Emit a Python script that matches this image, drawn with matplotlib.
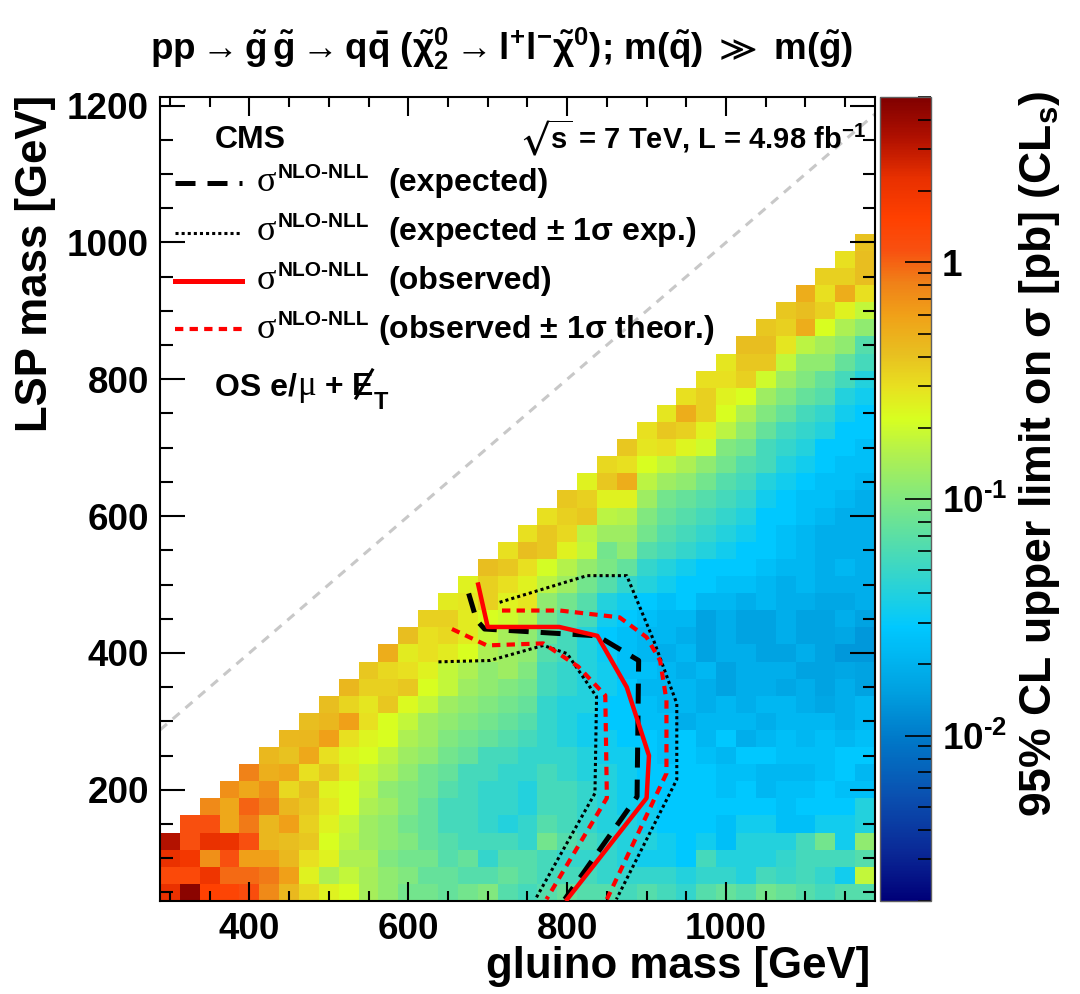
import numpy as np
import matplotlib
matplotlib.use("Agg")
import matplotlib.pyplot as plt
from matplotlib.colors import LogNorm, LinearSegmentedColormap
from matplotlib.lines import Line2D
from matplotlib.ticker import MultipleLocator, FixedLocator, FixedFormatter, NullFormatter

plt.rcParams['font.family'] = ['Liberation Sans', 'DejaVu Sans']
plt.rcParams['font.weight'] = 'bold'
plt.rcParams['mathtext.fontset'] = 'custom'
plt.rcParams['mathtext.rm'] = 'Liberation Sans:bold'
plt.rcParams['mathtext.it'] = 'Liberation Sans:bold'
plt.rcParams['mathtext.bf'] = 'Liberation Sans:bold'
plt.rcParams['mathtext.sf'] = 'Liberation Sans:bold'
plt.rcParams['mathtext.fallback'] = 'stixsans'

# ---------------- data ----------------
gluino_mass = np.arange(300, 1176, 25)      # bin centres [GeV]
lsp_mass = np.arange(50, 1201, 25)          # bin centres [GeV]

# 95% CL upper limit [pb]; one list per gluino column, from LSP = 50 GeV upward
limit_cols = [
    [2.2, 1.3, 2.2, 3.3],
    [4.5, 1.3, 1.9, 1.15, 1.15],
    [1.5, 2.0, 0.7, 2.2, 1.15, 0.75],
    [1.4, 0.95, 1.15, 2.1, 0.55, 0.55, 0.7],
    [1.2, 0.95, 0.6, 1.15, 0.85, 1.0, 0.55, 0.8],
    [0.75, 0.85, 0.6, 0.46, 0.46, 0.8, 0.7, 0.5, 0.45],
    [0.45, 0.6, 0.45, 0.42, 0.6, 0.46, 0.32, 0.55, 0.4, 0.45],
    [0.32, 0.25, 0.3, 0.38, 0.35, 0.38, 0.42, 0.3, 0.55, 0.46, 0.42],
    [0.25, 0.15, 0.25, 0.22, 0.25, 0.28, 0.25, 0.38, 0.3, 0.6, 0.46, 0.42],
    [0.22, 0.18, 0.15, 0.17, 0.18, 0.22, 0.22, 0.27, 0.24, 0.3, 0.6, 0.33, 0.46],
    [0.14, 0.14, 0.15, 0.13, 0.13, 0.15, 0.17, 0.18, 0.22, 0.24, 0.3, 0.28, 0.35, 0.38],
    [0.115, 0.115, 0.1, 0.115, 0.115, 0.13, 0.115, 0.15, 0.17, 0.22, 0.22, 0.38, 0.35, 0.32, 0.52],
    [0.088, 0.1, 0.088, 0.1, 0.088, 0.1, 0.1, 0.115, 0.13, 0.15, 0.18, 0.23, 0.38, 0.3, 0.27, 0.42],
    [0.088, 0.077, 0.088, 0.077, 0.077, 0.077, 0.088, 0.088, 0.115, 0.13, 0.13, 0.18, 0.22, 0.25, 0.3, 0.3, 0.35],
    [0.077, 0.077, 0.066, 0.066, 0.056, 0.056, 0.066, 0.077, 0.088, 0.1, 0.115, 0.13, 0.18, 0.18, 0.27, 0.32, 0.35, 0.27],
    [0.088, 0.066, 0.077, 0.056, 0.056, 0.056, 0.056, 0.056, 0.077, 0.088, 0.1, 0.115, 0.13, 0.15, 0.22, 0.27, 0.27, 0.28, 0.25],
    [0.1, 0.066, 0.048, 0.056, 0.048, 0.048, 0.048, 0.056, 0.056, 0.077, 0.088, 0.1, 0.115, 0.115, 0.15, 0.18, 0.22, 0.35, 0.35, 0.42],
    [0.066, 0.077, 0.066, 0.056, 0.04, 0.048, 0.048, 0.048, 0.056, 0.066, 0.077, 0.088, 0.1, 0.13, 0.13, 0.14, 0.2, 0.25, 0.3, 0.38, 0.3],
    [0.056, 0.066, 0.066, 0.048, 0.048, 0.04, 0.04, 0.048, 0.048, 0.056, 0.066, 0.077, 0.088, 0.1, 0.115, 0.115, 0.17, 0.28, 0.25, 0.3, 0.42, 0.3],
    [0.066, 0.056, 0.056, 0.088, 0.066, 0.056, 0.056, 0.056, 0.048, 0.048, 0.048, 0.048, 0.056, 0.056, 0.066, 0.077, 0.088, 0.115, 0.17, 0.21, 0.38, 0.38, 0.3],
    [0.077, 0.056, 0.048, 0.066, 0.056, 0.056, 0.056, 0.048, 0.048, 0.04, 0.04, 0.04, 0.048, 0.048, 0.056, 0.056, 0.066, 0.088, 0.13, 0.16, 0.25, 0.32, 0.35, 0.38],
    [0.066, 0.056, 0.048, 0.056, 0.048, 0.048, 0.048, 0.04, 0.04, 0.034, 0.034, 0.04, 0.04, 0.04, 0.04, 0.04, 0.056, 0.066, 0.088, 0.12, 0.18, 0.17, 0.38, 0.35, 0.25],
    [0.066, 0.048, 0.048, 0.048, 0.04, 0.04, 0.04, 0.04, 0.034, 0.034, 0.029, 0.029, 0.034, 0.034, 0.032, 0.029, 0.034, 0.04, 0.066, 0.095, 0.088, 0.13, 0.17, 0.25, 0.38, 0.32],
    [0.056, 0.048, 0.04, 0.04, 0.04, 0.034, 0.034, 0.034, 0.034, 0.029, 0.029, 0.029, 0.029, 0.025, 0.025, 0.025, 0.029, 0.034, 0.048, 0.075, 0.115, 0.13, 0.16, 0.25, 0.52, 0.3, 0.38],
    [0.066, 0.048, 0.034, 0.04, 0.034, 0.034, 0.029, 0.029, 0.029, 0.029, 0.025, 0.025, 0.022, 0.025, 0.022, 0.022, 0.025, 0.029, 0.04, 0.048, 0.066, 0.088, 0.1, 0.13, 0.17, 0.22, 0.28, 0.3],
    [0.056, 0.048, 0.034, 0.034, 0.029, 0.029, 0.029, 0.029, 0.025, 0.025, 0.025, 0.022, 0.022, 0.022, 0.019, 0.022, 0.022, 0.025, 0.034, 0.04, 0.056, 0.066, 0.077, 0.088, 0.13, 0.18, 0.3, 0.38, 0.28],
    [0.048, 0.04, 0.029, 0.029, 0.029, 0.029, 0.029, 0.029, 0.029, 0.029, 0.019, 0.022, 0.022, 0.019, 0.022, 0.019, 0.022, 0.029, 0.029, 0.034, 0.048, 0.056, 0.066, 0.077, 0.115, 0.15, 0.24, 0.35, 0.52, 0.3],
    [0.066, 0.048, 0.056, 0.034, 0.029, 0.029, 0.029, 0.029, 0.025, 0.022, 0.022, 0.019, 0.019, 0.022, 0.016, 0.016, 0.016, 0.022, 0.029, 0.029, 0.04, 0.048, 0.056, 0.066, 0.088, 0.115, 0.2, 0.25, 0.35, 0.35, 0.3],
    [0.077, 0.048, 0.04, 0.025, 0.025, 0.029, 0.025, 0.025, 0.022, 0.029, 0.022, 0.022, 0.016, 0.016, 0.019, 0.019, 0.019, 0.022, 0.025, 0.029, 0.034, 0.04, 0.048, 0.056, 0.066, 0.088, 0.1, 0.17, 0.22, 0.25, 0.3, 0.28],
    [0.066, 0.04, 0.04, 0.04, 0.034, 0.029, 0.029, 0.025, 0.029, 0.019, 0.022, 0.019, 0.019, 0.019, 0.019, 0.016, 0.016, 0.019, 0.025, 0.029, 0.029, 0.034, 0.04, 0.048, 0.056, 0.066, 0.088, 0.115, 0.15, 0.22, 0.35, 0.38, 0.42],
    [0.088, 0.056, 0.04, 0.04, 0.034, 0.029, 0.022, 0.022, 0.029, 0.022, 0.019, 0.022, 0.019, 0.019, 0.016, 0.016, 0.016, 0.022, 0.022, 0.025, 0.029, 0.029, 0.029, 0.034, 0.04, 0.056, 0.056, 0.077, 0.1, 0.13, 0.2, 0.38, 0.42, 0.38],
    [0.077, 0.05, 0.048, 0.04, 0.025, 0.025, 0.025, 0.022, 0.025, 0.025, 0.022, 0.022, 0.017, 0.019, 0.016, 0.019, 0.019, 0.019, 0.019, 0.022, 0.025, 0.025, 0.029, 0.029, 0.034, 0.04, 0.048, 0.056, 0.077, 0.1, 0.13, 0.18, 0.28, 0.35, 0.38],
    [0.066, 0.056, 0.056, 0.056, 0.025, 0.029, 0.025, 0.022, 0.025, 0.022, 0.022, 0.019, 0.019, 0.016, 0.019, 0.016, 0.016, 0.019, 0.022, 0.022, 0.022, 0.022, 0.025, 0.025, 0.029, 0.034, 0.04, 0.048, 0.056, 0.077, 0.1, 0.115, 0.17, 0.52, 0.42, 0.52],
    [0.056, 0.048, 0.056, 0.088, 0.034, 0.029, 0.029, 0.025, 0.025, 0.025, 0.022, 0.017, 0.016, 0.016, 0.016, 0.016, 0.016, 0.017, 0.019, 0.019, 0.019, 0.019, 0.022, 0.025, 0.025, 0.029, 0.029, 0.04, 0.048, 0.066, 0.077, 0.115, 0.14, 0.22, 0.35, 0.3, 0.35],
    [0.066, 0.034, 0.056, 0.034, 0.034, 0.029, 0.025, 0.029, 0.029, 0.022, 0.019, 0.019, 0.019, 0.017, 0.014, 0.017, 0.019, 0.017, 0.019, 0.022, 0.019, 0.019, 0.019, 0.022, 0.025, 0.025, 0.029, 0.029, 0.034, 0.04, 0.056, 0.077, 0.115, 0.15, 0.25, 0.52, 0.35, 0.3],
    [0.066, 0.18, 0.066, 0.115, 0.04, 0.04, 0.025, 0.022, 0.029, 0.025, 0.022, 0.022, 0.016, 0.016, 0.014, 0.014, 0.016, 0.019, 0.019, 0.019, 0.019, 0.019, 0.019, 0.019, 0.022, 0.025, 0.025, 0.029, 0.029, 0.034, 0.04, 0.056, 0.066, 0.115, 0.18, 0.3, 0.42, 0.42, 0.4],
]

# exclusion contours (gluino mass, LSP mass) [GeV]
exp_gluino = [676, 686, 696, 838, 890, 888, 797]
exp_lsp = [487, 448, 435, 425, 389, 190, 40]
exp_up_gluino = [715, 825, 875, 909, 938, 938, 862]
exp_up_lsp = [474, 513, 513, 418, 326, 215, 40]
exp_dn_gluino = [638, 703, 770, 800, 837, 835, 760]
exp_dn_lsp = [387, 389, 411, 399, 336, 195, 40]
obs_gluino = [688, 700, 790, 838, 875, 903, 900, 800]
obs_lsp = [500, 438, 438, 425, 350, 250, 188, 40]
obs_up_gluino = [718, 791, 866, 900, 917, 925, 925, 850]
obs_up_lsp = [462, 462, 452, 423, 389, 331, 224, 40]
obs_dn_gluino = [655, 699, 770, 814, 848, 850, 774]
obs_dn_lsp = [435, 411, 414, 380, 338, 188, 40]

cbar_ticks = [0.01, 0.1, 1]
cbar_ticklabels = ['$10^{\u20102}$', '$10^{\u20101}$', '1']

# ---------------- figure ----------------
W, H = 1080, 994
fig = plt.figure(figsize=(W / 100, H / 100), dpi=100)


def fx(x):
    return x / W


def fy(y):
    return 1 - y / H


ax = fig.add_axes([fx(160), fy(901), 715 / W, 804 / H])

Z = np.full((len(lsp_mass), len(gluino_mass)), np.nan)
for i, col in enumerate(limit_cols):
    Z[:len(col), i] = col
x_edges = np.append(gluino_mass - 12.5, gluino_mass[-1] + 12.5)
y_edges = np.append(lsp_mass - 12.5, lsp_mass[-1] + 12.5)

nodes = [
    (0.00, '#000078'), (0.06, '#0a2896'), (0.13, '#0a50b0'), (0.20, '#0078c8'),
    (0.26, '#00a0e0'), (0.34, '#00c8ff'), (0.38, '#20d0e0'), (0.42, '#40d8c0'),
    (0.50, '#80e880'), (0.555, '#b0f050'), (0.60, '#d8ff20'), (0.64, '#e8e020'),
    (0.68, '#e8c020'), (0.73, '#f0a018'), (0.77, '#f08018'), (0.81, '#f85010'),
    (0.85, '#ff4000'), (0.90, '#e83000'), (0.95, '#b01000'), (1.00, '#800000'),
]
cmap = LinearSegmentedColormap.from_list('rootpal', nodes, N=512)
norm = LogNorm(vmin=0.002, vmax=5)

mesh = ax.pcolormesh(x_edges, y_edges, np.ma.masked_invalid(Z), cmap=cmap, norm=norm,
                     edgecolors='none', antialiased=False, zorder=1)

ax.plot([287.5, 1187.5], [287.5, 1187.5], color='#c8c8c8', lw=2.2, dashes=(3, 2.5), zorder=2)

ax.plot(exp_up_gluino, exp_up_lsp, color='black', lw=2.2, dashes=(1, 1), zorder=3)
ax.plot(exp_dn_gluino, exp_dn_lsp, color='black', lw=2.2, dashes=(1, 1), zorder=3)
ax.plot(exp_gluino, exp_lsp, color='black', lw=3.6, dashes=(4, 2.4), zorder=4)
ax.plot(obs_up_gluino, obs_up_lsp, color='#ff0000', lw=3.0, dashes=(2, 1.5), zorder=5)
ax.plot(obs_dn_gluino, obs_dn_lsp, color='#ff0000', lw=3.0, dashes=(2, 1.5), zorder=5)
ax.plot(obs_gluino, obs_lsp, color='#ff0000', lw=3.2, zorder=6)

ax.set_xlim(287.5, 1187.5)
ax.set_ylim(37.5, 1212.5)
ax.xaxis.set_major_locator(MultipleLocator(200))
ax.xaxis.set_minor_locator(MultipleLocator(50))
ax.yaxis.set_major_locator(MultipleLocator(200))
ax.yaxis.set_minor_locator(MultipleLocator(50))
ax.tick_params(axis='both', which='both', direction='in', top=True, right=True,
               width=1.5, labelsize=26.5)
ax.tick_params(axis='x', which='major', length=14, pad=8)
ax.tick_params(axis='x', which='minor', length=7)
ax.tick_params(axis='y', which='major', length=18, pad=8)
ax.tick_params(axis='y', which='minor', length=9)
for s in ax.spines.values():
    s.set_linewidth(1.5)

# colorbar
cax = fig.add_axes([fx(880), fy(901), 51 / W, 804 / H])
cb = fig.colorbar(mesh, cax=cax)
cb.outline.set_linewidth(1.0)
cb.outline.set_edgecolor('#606060')
cax.yaxis.set_major_locator(FixedLocator(cbar_ticks))
cax.yaxis.set_major_formatter(FixedFormatter(cbar_ticklabels))
minors = [m * 10.0 ** e for e in (-3, -2, -1, 0) for m in range(2, 10)]
minors = [v for v in minors if 0.002 <= v <= 5]
cax.yaxis.set_minor_locator(FixedLocator(minors))
cax.yaxis.set_minor_formatter(NullFormatter())
cax.tick_params(axis='y', which='both', direction='in', right=True, left=False,
                width=1.2, labelsize=26.5, pad=8)
cax.tick_params(axis='y', which='major', length=19)
cax.tick_params(axis='y', which='minor', length=9.5)

# axis labels & title
fig.text(fx(870), fy(978), 'gluino mass [GeV]', ha='right', va='baseline', fontsize=31.5)
fig.text(fx(36), fy(95), 'LSP mass [GeV]', ha='center', va='top', rotation=90, fontsize=31.5)
fig.text(fx(1040), fy(90), r'95% CL upper limit on $\sigma$ [pb] (CL$_{s}$)',
         ha='center', va='top', rotation=90, fontsize=32)
fig.text(fx(502), fy(60),
         r'pp$\rightarrow\tilde{g}\,\tilde{g}\rightarrow$q$\bar{q}$ ($\tilde{\chi}^{0}_{2}\rightarrow$l$^{+}$l$^{-}\tilde{\chi}^{0}$); m($\tilde{q}$) $\gg$ m($\tilde{g}$)',
         ha='center', va='baseline', fontsize=26.5)

# in-plot texts
fig.text(fx(215), fy(148), 'CMS', ha='left', va='baseline', fontsize=23)
fig.text(fx(866), fy(148), r'$\sqrt{s}$ = 7 TeV, L = 4.98 fb$^{-1}$', ha='right',
         va='baseline', fontsize=21)

rend = fig.canvas.get_renderer()


def put(x, y, s, **kw):
    t = fig.text(fx(x), fy(y), s, ha='left', va='baseline', **kw)
    return t, t.get_window_extent(renderer=rend)


# OS e/mu + MET (slashed E drawn as a stroke through the letter)
_, bb = put(215, 395, 'OS e/', fontsize=23)
_, bb = put(bb.x1, 395, '\u03bc', fontsize=25, family='Liberation Serif', weight='normal')
_, bb = put(bb.x1, 395, ' + ', fontsize=23)
ex = bb.x1
tE, bbE = put(ex, 395, 'E', fontsize=23)
fig.add_artist(Line2D([fx(ex + 4), fx(ex + bbE.width - 1)], [fy(398), fy(370)],
                      transform=fig.transFigure, color='black', lw=2.2))
put(bbE.x1, 409, 'T', fontsize=17)

# legend
leg_rows = [
    (183, 191, dict(color='black', lw=3.6, dashes=(4, 2.4)), '(expected)', 388),
    (233, 240, dict(color='black', lw=2.2, dashes=(1, 1)), '(expected $\\pm$ 1$\\sigma$ exp.)', 388),
    (281, 289, dict(color='#ff0000', lw=3.6), '(observed)', 388),
    (329, 338, dict(color='#ff0000', lw=3.0, dashes=(2, 1.5)), '(observed $\\pm$ 1$\\sigma$ theor.)', 378),
]
for ly, base, style, label, tx in leg_rows:
    fig.add_artist(Line2D([fx(175), fx(242)], [fy(ly), fy(ly)], transform=fig.transFigure, **style))
    put(257, base, '\u03c3', fontsize=26, family='Liberation Serif', weight='normal')
    put(278, base - 13, 'NLO-NLL', fontsize=15)
    put(tx, base, label, fontsize=23)

fig.savefig('out.png', dpi=100)
